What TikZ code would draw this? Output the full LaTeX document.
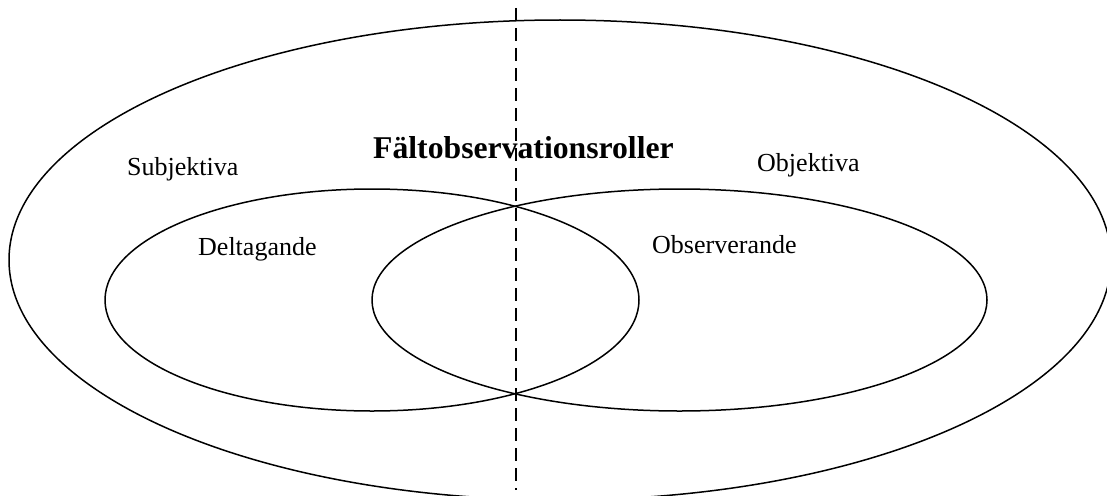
\documentclass[tikz,border=0pt]{standalone}
\usepackage{fontspec}
\setmainfont{Liberation Serif}
\begin{document}
\begin{tikzpicture}[x=1pt,y=-1pt,
  ring/.style={draw=black,line width=1.5pt},
  divider/.style={draw=black,line width=1.5pt,dash pattern=on 13pt off 7pt},
  lbl/.style={inner sep=0pt,anchor=base west,font=\fontsize{26}{30}\selectfont},
  ttl/.style={inner sep=0pt,anchor=base west,font=\fontsize{31.7}{36}\selectfont\bfseries}]
\useasboundingbox (0,0) rectangle (1107,495);
\begin{scope}
\clip (0,0) rectangle (1107,495);
\coordinate (outerc) at (560,260);
\coordinate (leftc) at (372,300);
\coordinate (rightc) at (679.5,300);
\draw[ring] (outerc) ellipse [x radius=551pt, y radius=240pt];
\draw[ring] (leftc) ellipse [x radius=267pt, y radius=111pt];
\draw[ring] (rightc) ellipse [x radius=307.5pt, y radius=111pt];
\coordinate (dtop) at (516,8);
\coordinate (dbot) at (516,490);
\draw[divider] (dtop) -- (dbot);
\end{scope}
\node[ttl] (title) at (373,158) {Fältobservationsroller};
\node[lbl] (subj) at (127,175) {Subjektiva};
\node[lbl] (obj) at (757,171) {Objektiva};
\node[lbl] (delt) at (198,255) {Deltagande};
\node[lbl] (obs) at (652,253) {Observerande};
\end{tikzpicture}
\end{document}
